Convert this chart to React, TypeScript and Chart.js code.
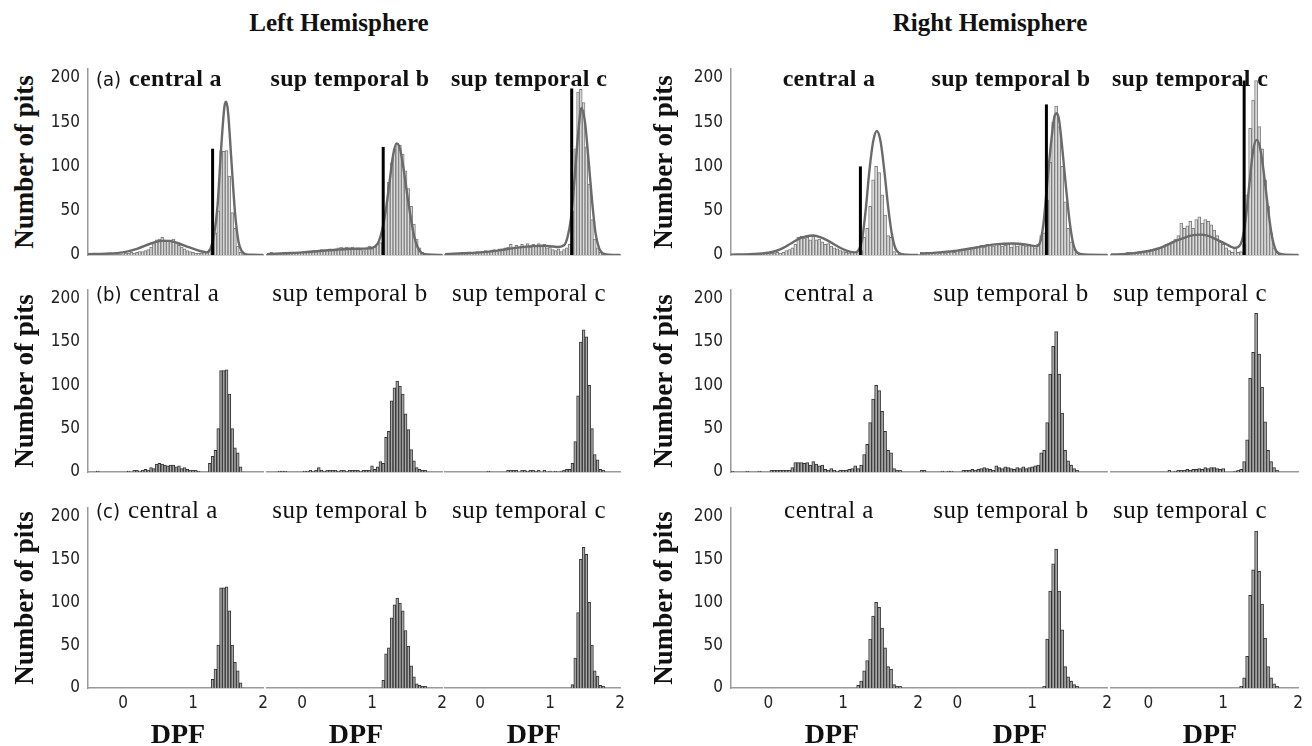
import { useEffect, useRef } from "react";
import { Chart, registerables } from "chart.js";

Chart.register(...registerables);

// histogram bin centres (DPF), bin width 0.04
const binCenters = [
  -0.48, -0.44, -0.4, -0.36, -0.32, -0.28, -0.24, -0.2, -0.16, -0.12,
  -0.08, -0.04, 0.0, 0.04, 0.08, 0.12, 0.16, 0.2, 0.24, 0.28,
  0.32, 0.36, 0.4, 0.44, 0.48, 0.52, 0.56, 0.6, 0.64, 0.68,
  0.72, 0.76, 0.8, 0.84, 0.88, 0.92, 0.96, 1.0, 1.04, 1.08,
  1.12, 1.16, 1.2, 1.24, 1.28, 1.32, 1.36, 1.4, 1.44, 1.48,
  1.52, 1.56, 1.6, 1.64, 1.68, 1.72, 1.76, 1.8, 1.84, 1.88,
  1.92, 1.96,
];

const yTicks = [0, 50, 100, 150, 200];
const xTicks = [0, 1, 2];

const hemisphereNames = ["Left Hemisphere", "Right Hemisphere"];
const regionNames = ["central a", "sup temporal b", "sup temporal c"];
const rowTags = ["(a)", "(b)", "(c)"];

// row (a): all pits, left hemisphere
const aLeftCentral = [
  0, 0, 0, 0, 0, 0, 0, 0, 0, 0,
  0, 0, 1, 2, 2, 3, 2, 3, 4, 4,
  5, 6, 9, 13, 17, 18, 20, 17, 16, 17,
  18, 14, 11, 9, 7, 5, 4, 3, 2, 2,
  2, 3, 4, 6, 10, 25, 50, 118, 117, 118,
  89, 48, 30, 10, 3, 0, 0, 0, 0, 0,
  0, 0,
];
const aLeftSupB = [
  0, 3, 1, 1, 2, 2, 1, 2, 2, 3,
  2, 3, 3, 4, 3, 4, 5, 4, 5, 6,
  5, 6, 7, 6, 7, 8, 9, 8, 9, 8,
  9, 7, 8, 6, 5, 8, 10, 7, 9, 12,
  14, 28, 50, 82, 104, 120, 126, 124, 114, 95,
  75, 55, 35, 18, 8, 3, 1, 0, 0, 0,
  0, 0,
];
const aLeftSupC = [
  0, 1, 1, 2, 1, 2, 2, 3, 2, 2,
  3, 4, 3, 4, 5, 4, 5, 6, 5, 7,
  6, 8, 9, 12, 8, 11, 9, 12, 10, 13,
  9, 12, 11, 13, 10, 12, 8, 9, 6, 5,
  7, 4, 6, 8, 12, 50, 120, 184, 187, 172,
  122, 80, 40, 18, 8, 3, 0, 0, 0, 0,
  0, 0,
];
// row (a): all pits, right hemisphere
const aRightCentral = [
  0, 0, 0, 0, 0, 0, 0, 0, 0, 1,
  1, 2, 1, 2, 2, 3, 2, 3, 5, 6,
  8, 12, 20, 21, 19, 20, 17, 21, 17, 18,
  15, 12, 13, 10, 8, 7, 5, 4, 3, 2,
  3, 3, 4, 5, 20, 30, 55, 85, 100, 93,
  68, 45, 22, 20, 4, 1, 0, 0, 0, 0,
  0, 0,
];
const aRightSupB = [
  3, 2, 2, 3, 2, 1, 2, 3, 2, 3,
  4, 3, 5, 4, 6, 5, 7, 6, 8, 10,
  11, 9, 12, 11, 10, 12, 13, 10, 11, 12,
  9, 13, 10, 12, 11, 10, 12, 11, 8, 12,
  22, 25, 62, 105, 150, 168, 145, 100, 60, 30,
  15, 6, 3, 2, 0, 0, 0, 0, 0, 0,
  0, 0,
];
const aRightSupC = [
  0, 0, 0, 0, 2, 3, 3, 2, 3, 4,
  3, 4, 5, 6, 7, 8, 9, 10, 12, 13,
  15, 18, 22, 36, 30, 33, 38, 30, 40, 43,
  36, 40, 38, 34, 28, 22, 15, 12, 8, 5,
  3, 8, 3, 4, 12, 68, 143, 175, 197, 145,
  120, 85, 55, 25, 8, 3, 0, 0, 0, 0,
  0, 0,
];

// row (b)
const bLeftCentral = [
  0, 0, 0, 1, 0, 0, 0, 0, 0, 0,
  0, 0, 0, 0, 1, 0, 2, 2, 1, 2,
  3, 2, 5, 4, 9, 10, 9, 8, 7, 8,
  8, 6, 7, 4, 5, 3, 2, 2, 2, 1,
  0, 0, 0, 10, 18, 25, 50, 117, 117, 118,
  90, 50, 28, 22, 6, 0, 0, 0, 0, 0,
  0, 0,
];
const bLeftSupB = [
  0, 0, 0, 0, 1, 1, 1, 0, 0, 0,
  0, 0, 0, 1, 1, 2, 1, 2, 5, 2,
  1, 2, 2, 2, 2, 1, 2, 2, 1, 2,
  2, 2, 2, 1, 2, 2, 2, 7, 3, 6,
  12, 10, 40, 47, 82, 97, 105, 99, 90, 67,
  49, 26, 13, 5, 3, 2, 2, 0, 0, 0,
  0, 0,
];
const bLeftSupC = [
  0, 0, 0, 0, 0, 0, 0, 0, 0, 0,
  0, 0, 0, 0, 0, 1, 0, 0, 0, 0,
  0, 0, 2, 2, 2, 2, 0, 2, 2, 1,
  2, 2, 1, 2, 0, 2, 0, 1, 0, 1,
  0, 1, 2, 3, 3, 10, 35, 88, 150, 164,
  156, 100, 50, 20, 14, 3, 2, 0, 0, 0,
  0, 0,
];
const bRightCentral = [
  1, 0, 0, 0, 0, 1, 0, 0, 0, 1,
  0, 0, 0, 2, 2, 2, 2, 2, 2, 2,
  5, 11, 11, 11, 10, 11, 8, 12, 9, 7,
  8, 3, 2, 4, 2, 1, 2, 2, 2, 3,
  4, 7, 4, 8, 20, 32, 57, 84, 100, 94,
  70, 47, 25, 22, 4, 2, 2, 0, 0, 0,
  0, 0,
];
const bRightSupB = [
  2, 2, 0, 0, 0, 0, 0, 1, 0, 1,
  1, 0, 0, 0, 2, 2, 2, 3, 2, 3,
  4, 5, 4, 3, 2, 7, 5, 4, 6, 5,
  4, 3, 5, 4, 6, 4, 5, 6, 7, 8,
  22, 25, 57, 113, 145, 162, 113, 68, 25, 13,
  8, 4, 2, 0, 0, 0, 0, 0, 0, 0,
  0, 0,
];
const bRightSupC = [
  0, 0, 0, 0, 0, 0, 0, 0, 0, 0,
  0, 0, 0, 0, 0, 0, 0, 0, 0, 2,
  0, 1, 2, 2, 2, 3, 2, 3, 3, 4,
  3, 5, 4, 5, 5, 4, 3, 4, 0, 0,
  0, 1, 2, 3, 12, 37, 108, 138, 183, 136,
  98, 58, 25, 12, 5, 2, 0, 0, 0, 0,
  0, 0,
];

// row (c)
const cLeftCentral = [
  0, 0, 0, 0, 0, 0, 0, 0, 0, 0,
  0, 0, 0, 0, 0, 0, 0, 0, 0, 0,
  0, 0, 0, 0, 0, 0, 0, 0, 0, 0,
  0, 0, 0, 0, 0, 0, 0, 0, 0, 0,
  0, 0, 0, 0, 10, 22, 50, 117, 117, 118,
  90, 50, 30, 20, 6, 0, 0, 0, 0, 0,
  0, 0,
];
const cLeftSupB = [
  0, 0, 0, 0, 0, 0, 0, 0, 0, 0,
  0, 0, 0, 0, 0, 0, 0, 0, 0, 0,
  0, 0, 0, 0, 0, 0, 0, 0, 0, 0,
  0, 0, 0, 0, 0, 0, 0, 0, 0, 0,
  0, 9, 40, 47, 82, 97, 105, 99, 90, 67,
  49, 26, 13, 5, 3, 2, 2, 0, 0, 0,
  0, 0,
];
const cLeftSupC = [
  0, 0, 0, 0, 0, 0, 0, 0, 0, 0,
  0, 0, 0, 0, 0, 0, 0, 0, 0, 0,
  0, 0, 0, 0, 0, 0, 0, 0, 0, 0,
  0, 0, 0, 0, 0, 0, 0, 0, 0, 0,
  0, 0, 0, 0, 0, 4, 35, 88, 150, 164,
  156, 100, 50, 20, 14, 3, 2, 0, 0, 0,
  0, 0,
];
const cRightCentral = [
  0, 0, 0, 0, 0, 0, 0, 0, 0, 0,
  0, 0, 0, 0, 0, 0, 0, 0, 0, 0,
  0, 0, 0, 0, 0, 0, 0, 0, 0, 0,
  0, 0, 0, 0, 0, 0, 0, 0, 0, 0,
  0, 0, 3, 8, 20, 32, 57, 84, 100, 94,
  70, 47, 25, 22, 4, 2, 2, 0, 0, 0,
  0, 0,
];
const cRightSupB = [
  0, 0, 0, 0, 0, 0, 0, 0, 0, 0,
  0, 0, 0, 0, 0, 0, 0, 0, 0, 0,
  0, 0, 0, 0, 0, 0, 0, 0, 0, 0,
  0, 0, 0, 0, 0, 0, 0, 0, 0, 0,
  0, 2, 57, 113, 145, 162, 113, 68, 25, 13,
  8, 4, 2, 0, 0, 0, 0, 0, 0, 0,
  0, 0,
];
const cRightSupC = [
  0, 0, 0, 0, 0, 0, 0, 0, 0, 0,
  0, 0, 0, 0, 0, 0, 0, 0, 0, 0,
  0, 0, 0, 0, 0, 0, 0, 0, 0, 0,
  0, 0, 0, 0, 0, 0, 0, 0, 0, 0,
  0, 0, 0, 2, 12, 37, 108, 138, 183, 136,
  98, 58, 25, 12, 5, 2, 0, 0, 0, 0,
  0, 0,
];

// mixture fits drawn over row (a)
const fitLeftCentralX = [-0.5, -0.25, 0, 0.2, 0.4, 0.55, 0.65, 0.8, 0.95, 1.1, 1.2, 1.25, 1.3, 1.35, 1.4, 1.45, 1.475, 1.5, 1.55, 1.6, 1.65, 1.7, 1.75, 1.85, 2.0];
const fitLeftCentralY = [1, 1.5, 3, 7, 13, 16, 16, 13, 8.5, 4.5, 3, 7, 22, 55, 118, 168, 173, 162, 105, 48, 15, 4, 1, 0.2, 0];
const fitLeftSupBX = [-0.5, -0.25, 0, 0.25, 0.5, 0.75, 0.95, 1.05, 1.1, 1.15, 1.2, 1.25, 1.3, 1.35, 1.4, 1.45, 1.5, 1.55, 1.6, 1.65, 1.7, 1.8, 2.0];
const fitLeftSupBY = [1, 2, 3, 4.5, 6, 7, 7.5, 10, 16, 30, 52, 82, 112, 126, 120, 98, 70, 44, 22, 9, 3, 0.5, 0];
const fitLeftSupCX = [-0.5, -0.25, 0, 0.25, 0.5, 0.75, 0.9, 1.0, 1.1, 1.2, 1.25, 1.3, 1.35, 1.4, 1.45, 1.5, 1.55, 1.6, 1.65, 1.7, 1.75, 1.85, 2.0];
const fitLeftSupCY = [1, 2, 3, 5, 8, 10, 10.5, 10, 9, 11, 20, 42, 85, 135, 166, 150, 108, 62, 25, 8, 2, 0.3, 0];
const fitRightCentralX = [-0.5, -0.25, 0, 0.1, 0.2, 0.3, 0.4, 0.5, 0.6, 0.7, 0.8, 0.9, 1.0, 1.1, 1.15, 1.2, 1.25, 1.3, 1.35, 1.4, 1.45, 1.5, 1.55, 1.6, 1.65, 1.7, 1.75, 1.85, 2.0];
const fitRightCentralY = [0.3, 1, 2.5, 4.5, 8, 13, 18, 21, 22, 20, 16, 11, 6.5, 3.5, 3, 5, 16, 50, 95, 128, 140, 128, 95, 55, 24, 7, 2, 0.3, 0];
const fitRightSupBX = [-0.5, -0.25, 0, 0.25, 0.5, 0.75, 0.9, 1.05, 1.1, 1.15, 1.2, 1.25, 1.3, 1.33, 1.36, 1.4, 1.45, 1.5, 1.55, 1.6, 1.7, 2.0];
const fitRightSupBY = [1.5, 3, 5, 8.5, 12, 13, 12, 10, 13, 35, 80, 125, 157, 160, 152, 122, 78, 38, 12, 3, 0.5, 0];
const fitRightSupCX = [-0.5, -0.25, 0, 0.1, 0.2, 0.3, 0.4, 0.5, 0.6, 0.7, 0.8, 0.9, 1.0, 1.1, 1.15, 1.2, 1.25, 1.3, 1.35, 1.4, 1.45, 1.5, 1.55, 1.6, 1.65, 1.7, 1.75, 1.85, 2.0];
const fitRightSupCY = [0.5, 1.5, 4.5, 6.5, 9.5, 13.5, 17, 20, 22.5, 23, 21.5, 18, 14, 9.5, 8, 9, 16, 40, 80, 118, 130, 118, 88, 52, 22, 6, 1.5, 0.3, 0];

// threshold lines in row (a)
const thresholdLeft = [1.28, 1.16, 1.31];
const thresholdLeftHeight = [120, 122, 188];
const thresholdRight = [1.23, 1.19, 1.28];
const thresholdRightHeight = [100, 170, 197];

const counts = [
  [
    [aLeftCentral, aLeftSupB, aLeftSupC],
    [bLeftCentral, bLeftSupB, bLeftSupC],
    [cLeftCentral, cLeftSupB, cLeftSupC],
  ],
  [
    [aRightCentral, aRightSupB, aRightSupC],
    [bRightCentral, bRightSupB, bRightSupC],
    [cRightCentral, cRightSupB, cRightSupC],
  ],
];
const fitsX = [
  [fitLeftCentralX, fitLeftSupBX, fitLeftSupCX],
  [fitRightCentralX, fitRightSupBX, fitRightSupCX],
];
const fitsY = [
  [fitLeftCentralY, fitLeftSupBY, fitLeftSupCY],
  [fitRightCentralY, fitRightSupBY, fitRightSupCY],
];
const thresholds = [thresholdLeft, thresholdRight];
const thresholdHeights = [thresholdLeftHeight, thresholdRightHeight];

// layout
const COL_LEFT = [
  [88, 267, 445],
  [731, 920, 1111],
];
const COL_W = [175, 187];
const ROW_TOP = [69, 290, 508];
const ROW_BOTTOM = [255, 472, 688];
const TITLE_CX = [
  [0, 350, 529],
  [829, 1011, 1190],
];
const TITLE_BASE = [86, 301, 518];
const YLABEL_X = [24, 663];
const DPF_CX = [
  [178, 356, 534],
  [832, 1020, 1210],
];

const SERIF = "'Liberation Serif', 'Times New Roman', serif";
const SANS = "'DejaVu Sans Condensed', 'DejaVu Sans', sans-serif";

interface PanelProps {
  left: number;
  top: number;
  width: number;
  height: number;
  values: number[];
  fitX?: number[];
  fitY?: number[];
  cut?: number;
  cutHeight?: number;
  showY: boolean;
  showX: boolean;
  light: boolean;
}

const Panel = ({ left, top, width, height, values, fitX, fitY, cut, cutHeight, showY, showX, light }: PanelProps) => {
  const canvasRef = useRef<HTMLCanvasElement | null>(null);
  // generous margins so tick label overflow never squeezes the plot area
  const padL = showY ? 48 : 2;
  const padR = 16;
  const padT = 26;
  const padB = showX ? 32 : 26;

  useEffect(() => {
    if (!canvasRef.current) return;

    const bars = binCenters
      .map((x, i) => ({ x, y: values[i] }))
      .filter((p) => p.y > 0);

    const datasets: any[] = [
      {
        type: "bar",
        data: bars,
        backgroundColor: light ? "#dcdcdc" : "#a9a9a9",
        borderColor: light ? "#7c7c7c" : "#333333",
        borderWidth: 1,
        barPercentage: 1,
        categoryPercentage: 1,
        order: 3,
      },
    ];
    if (fitX && fitY) {
      datasets.push({
        type: "line",
        data: fitX.map((x, i) => ({ x, y: fitY[i] })),
        borderColor: "#6a6a6a",
        borderWidth: 2.4,
        pointRadius: 0,
        cubicInterpolationMode: "monotone",
        fill: false,
        order: 2,
      });
    }
    if (cut !== undefined) {
      datasets.push({
        type: "line",
        data: [
          { x: cut, y: 0 },
          { x: cut, y: cutHeight },
        ],
        borderColor: "#000",
        borderWidth: 3,
        pointRadius: 0,
        fill: false,
        order: 1,
      });
    }

    const chart = new Chart(canvasRef.current, {
      type: "bar",
      data: { datasets },
      options: {
        responsive: true,
        maintainAspectRatio: false,
        animation: false,
        events: [],
        layout: { padding: { left: 0, right: padR, top: padT, bottom: 0 } },
        plugins: {
          legend: { display: false },
          tooltip: { enabled: false },
        },
        scales: {
          x: {
            type: "linear",
            min: -0.5,
            max: 2,
            offset: false,
            afterBuildTicks: (scale: any) => {
              scale.ticks = xTicks.map((v) => ({ value: v }));
            },
            afterFit: (scale: any) => {
              scale.height = padB;
            },
            grid: { display: false, drawTicks: false },
            border: { display: true, color: "#9a9a9a", width: 1.5 },
            ticks: {
              display: showX,
              padding: 5,
              color: "#222",
              font: { family: SANS, size: 17 },
              maxRotation: 0,
              autoSkip: false,
            },
          },
          y: {
            type: "linear",
            min: 0,
            max: 210,
            afterBuildTicks: (scale: any) => {
              scale.ticks = yTicks.map((v) => ({ value: v }));
            },
            afterFit: (scale: any) => {
              scale.width = padL;
            },
            grid: { display: false, drawTicks: false },
            border: { display: showY, color: "#9a9a9a", width: 1.5 },
            ticks: {
              display: showY,
              padding: 8,
              color: "#222",
              font: { family: SANS, size: 17 },
              autoSkip: false,
            },
          },
        },
      } as any,
    });

    return () => {
      chart.destroy();
    };
  }, [values, fitX, fitY, cut, cutHeight, showY, showX, light, padL, padB]);

  return (
    <div
      style={{
        position: "absolute",
        left: left - padL,
        top: top - padT,
        width: width + padL + padR,
        height: height + padT + padB,
      }}
    >
      <canvas ref={canvasRef} />
    </div>
  );
};

const Text = ({
  x,
  baseline,
  size,
  bold,
  children,
  align = "center",
  spacing = 0,
}: {
  x: number;
  baseline: number;
  size: number;
  bold?: boolean;
  children: any;
  align?: "center" | "left";
  spacing?: number;
}) => (
  <div
    style={{
      position: "absolute",
      left: x,
      top: baseline - 0.8375 * size,
      transform: align === "center" ? "translateX(-50%)" : undefined,
      fontFamily: SERIF,
      fontSize: size,
      fontWeight: bold ? "bold" : "normal",
      lineHeight: 1,
      whiteSpace: "nowrap",
      letterSpacing: spacing,
      color: "#111",
    }}
  >
    {children}
  </div>
);

const App = () => {
  const items: any[] = [];

  for (let h = 0; h < 2; h++) {
    for (let r = 0; r < 3; r++) {
      for (let c = 0; c < 3; c++) {
        items.push(
          <Panel
            key={`p-${h}-${r}-${c}`}
            left={COL_LEFT[h][c]}
            top={ROW_TOP[r]}
            width={COL_W[h]}
            height={ROW_BOTTOM[r] - ROW_TOP[r]}
            values={counts[h][r][c]}
            fitX={r === 0 ? fitsX[h][c] : undefined}
            fitY={r === 0 ? fitsY[h][c] : undefined}
            cut={r === 0 ? thresholds[h][c] : undefined}
            cutHeight={r === 0 ? thresholdHeights[h][c] : undefined}
            showY={c === 0}
            showX={r === 2}
            light={r === 0}
          />
        );
      }
    }
  }

  for (let h = 0; h < 2; h++) {
    for (let r = 0; r < 3; r++) {
      for (let c = 0; c < 3; c++) {
        const bold = r === 0;
        const size = bold ? 24 : 25;
        const spacing = bold ? 0.3 : 0.5;
        if (h === 0 && c === 0) {
          items.push(
            <Text key={`t-${h}-${r}-${c}`} x={96} baseline={TITLE_BASE[r]} size={size} bold={bold} align="left" spacing={spacing}>
              <span style={{ fontFamily: SANS, fontWeight: "normal", fontSize: 20, letterSpacing: 0, marginRight: 8 }}>{rowTags[r]}</span>
              {regionNames[c]}
            </Text>
          );
        } else {
          items.push(
            <Text key={`t-${h}-${r}-${c}`} x={TITLE_CX[h][c]} baseline={TITLE_BASE[r]} size={size} bold={bold} spacing={spacing}>
              {regionNames[c]}
            </Text>
          );
        }
      }

      // y axis title
      const cy = (ROW_TOP[r] + ROW_BOTTOM[r]) / 2;
      items.push(
        <div
          key={`y-${h}-${r}`}
          style={{
            position: "absolute",
            left: YLABEL_X[h],
            top: cy,
            transform: "translate(-50%, -50%) rotate(-90deg)",
            fontFamily: SERIF,
            fontWeight: "bold",
            fontSize: 27,
            lineHeight: 1,
            whiteSpace: "nowrap",
            color: "#111",
          }}
        >
          Number of pits
        </div>
      );
    }

    for (let c = 0; c < 3; c++) {
      items.push(
        <Text key={`dpf-${h}-${c}`} x={DPF_CX[h][c]} baseline={743} size={28} bold>
          DPF
        </Text>
      );
    }
  }

  return (
    <div
      style={{
        position: "absolute",
        left: 0,
        top: 0,
        width: 1312,
        height: 746,
        background: "#fff",
        overflow: "hidden",
      }}
    >
      <Text x={339} baseline={31} size={25} bold>
        {hemisphereNames[0]}
      </Text>
      <Text x={990} baseline={31} size={25} bold>
        {hemisphereNames[1]}
      </Text>
      {items}
    </div>
  );
};

export default App;
